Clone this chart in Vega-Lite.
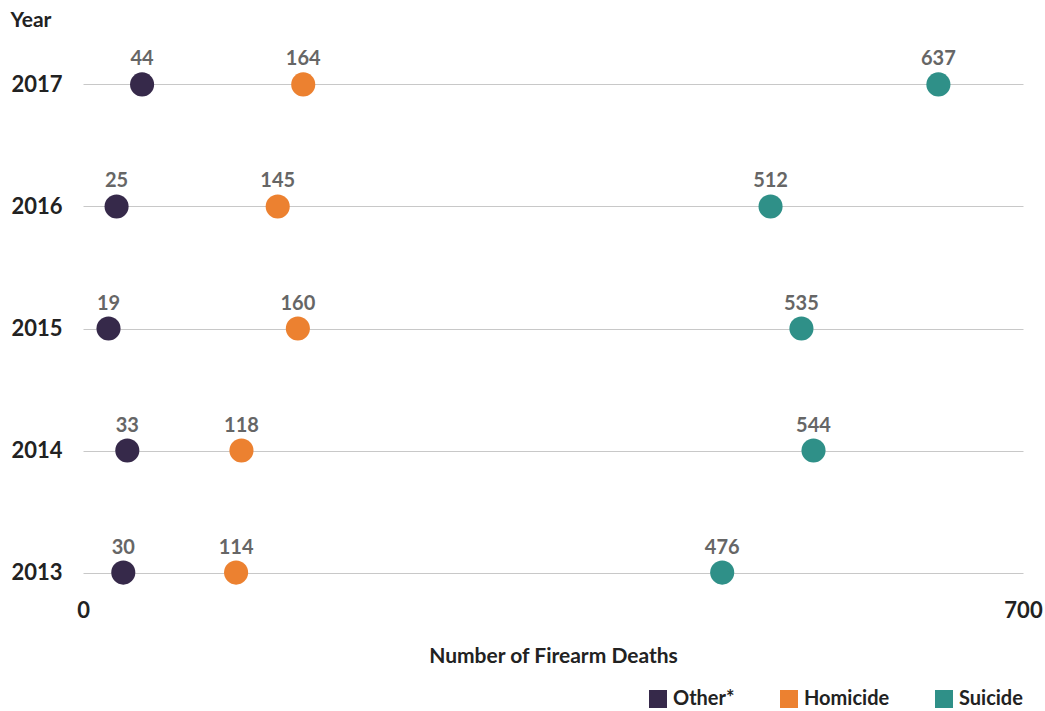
{
  "$schema": "https://vega.github.io/schema/vega-lite/v6.json",
  "autosize": "none",
  "width": 940,
  "height": 537,
  "padding": {"left": 83, "top": 60, "right": 22, "bottom": 114},
  "background": "white",
  "config": {
    "view": {"stroke": null},
    "font": "Lato"
  },
  "data": {
    "values": [
      {"year": "2017", "cause": "Other*", "deaths": 44},
      {"year": "2017", "cause": "Homicide", "deaths": 164},
      {"year": "2017", "cause": "Suicide", "deaths": 637},
      {"year": "2016", "cause": "Other*", "deaths": 25},
      {"year": "2016", "cause": "Homicide", "deaths": 145},
      {"year": "2016", "cause": "Suicide", "deaths": 512},
      {"year": "2015", "cause": "Other*", "deaths": 19},
      {"year": "2015", "cause": "Homicide", "deaths": 160},
      {"year": "2015", "cause": "Suicide", "deaths": 535},
      {"year": "2014", "cause": "Other*", "deaths": 33},
      {"year": "2014", "cause": "Homicide", "deaths": 118},
      {"year": "2014", "cause": "Suicide", "deaths": 544},
      {"year": "2013", "cause": "Other*", "deaths": 30},
      {"year": "2013", "cause": "Homicide", "deaths": 114},
      {"year": "2013", "cause": "Suicide", "deaths": 476}
    ]
  },
  "encoding": {
    "y": {
      "field": "year",
      "type": "ordinal",
      "sort": "descending",
      "scale": {"type": "point", "padding": 0.2},
      "axis": {
        "title": "Year",
        "titleAngle": 0,
        "titleX": -73,
        "titleY": -40,
        "titleAlign": "left",
        "titleBaseline": "middle",
        "titleFontSize": 21,
        "titleFontWeight": "bold",
        "titleColor": "#222222",
        "labelFontSize": 22,
        "labelFontWeight": "bold",
        "labelColor": "#222222",
        "labelPadding": 21,
        "ticks": false,
        "domain": false,
        "grid": true,
        "gridColor": "#c8c8c8",
        "gridWidth": 1
      }
    },
    "x": {
      "field": "deaths",
      "type": "quantitative",
      "scale": {"domain": [0, 700]},
      "axis": {
        "title": "Number of Firearm Deaths",
        "values": [0, 700],
        "labelFlush": false,
        "grid": false,
        "domain": false,
        "ticks": false,
        "labelPadding": 3,
        "labelFontSize": 22,
        "labelFontWeight": "bold",
        "labelColor": "#222222",
        "titleFontSize": 21,
        "titleFontWeight": "bold",
        "titleColor": "#222222",
        "titleY": 59,
        "titleBaseline": "middle"
      }
    }
  },
  "layer": [
    {
      "mark": {"type": "circle", "size": 580, "opacity": 1},
      "encoding": {
        "color": {
          "field": "cause",
          "type": "nominal",
          "scale": {
            "domain": ["Other*", "Homicide", "Suicide"],
            "range": ["#36294a", "#ec8130", "#2f9088"]
          },
          "legend": {
            "title": null,
            "orient": "none",
            "direction": "horizontal",
            "legendX": 565,
            "legendY": 629,
            "symbolType": "square",
            "symbolSize": 324,
            "symbolStrokeWidth": 0,
            "symbolOpacity": 1,
            "labelFontSize": 20,
            "labelFontWeight": "bold",
            "labelColor": "#222222",
            "labelOffset": 5,
            "columnPadding": 44
          }
        }
      }
    },
    {
      "mark": {"type": "text", "dy": -25, "fontSize": 20, "fontWeight": "bold", "color": "#666666", "baseline": "middle"},
      "encoding": {
        "text": {"field": "deaths", "type": "quantitative"}
      }
    }
  ]
}
